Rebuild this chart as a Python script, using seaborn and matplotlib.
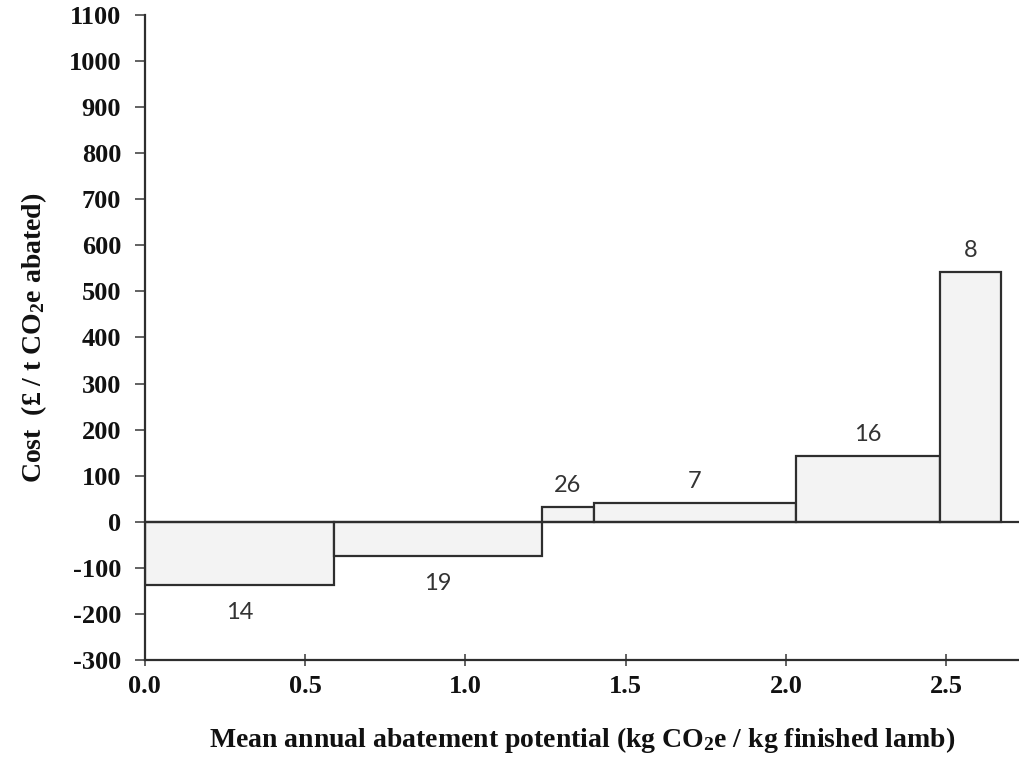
import numpy as np
import matplotlib
matplotlib.use("Agg")
import matplotlib.pyplot as plt
import seaborn as sns


# DATA

measure_ids = ["14", "19", "26", "7", "16", "8"]
abatement = [0.59, 0.65, 0.16, 0.63, 0.45, 0.19]   # kg CO2e / kg lamb (bar widths)
cost = [-138, -75, 31, 40, 143, 541]               # GBP / t CO2e (bar heights)

y_ticks = list(range(-300, 1101, 100))
x_ticks = [0.0, 0.5, 1.0, 1.5, 2.0, 2.5]


# STYLE

sns.set_theme(style="white")
plt.rcParams['font.family'] = ['Liberation Serif', 'DejaVu Serif']
plt.rcParams['axes.unicode_minus'] = False
plt.rcParams['mathtext.fontset'] = 'custom'
plt.rcParams['mathtext.bf'] = 'Liberation Serif:bold'
plt.rcParams['mathtext.rm'] = 'Liberation Serif'
plt.rcParams['mathtext.it'] = 'Liberation Serif:italic'

fig = plt.figure(figsize=(10.2, 7.68), dpi=100)
ax = fig.add_axes([0.142, 0.1406, 0.858, 0.84])

edges = np.concatenate([[0], np.cumsum(abatement)[:-1]])

# BARS

ax.bar(edges, cost, width=abatement, align='edge',
       color='#f3f3f3', edgecolor='#2e2e2e', linewidth=1.6, zorder=2)

ax.axhline(0, color='#2e2e2e', linewidth=1.6, zorder=3)

for left, w, c, lab in zip(edges, abatement, cost, measure_ids):
    off = 8 if c > 0 else -12
    ax.annotate(lab, (left + w / 2, c), xytext=(0, off), textcoords='offset points',
                ha='center', va='bottom' if c > 0 else 'top',
                fontsize=17, family=['Lato', 'DejaVu Sans'], color='#333333')


# AXES

ax.set_xlim(0, 2.73)
ax.set_ylim(-300, 1100)
ax.set_yticks(y_ticks)
ax.set_xticks(x_ticks)
ax.set_xticklabels([f"{v:.1f}" for v in x_ticks])

for s in ['top', 'right']:
    ax.spines[s].set_visible(False)
for s in ['left', 'bottom']:
    ax.spines[s].set_color('#2e2e2e')
    ax.spines[s].set_linewidth(1.6)

ax.tick_params(axis='y', left=True, direction='out', length=7, width=1.3,
               color='#555555', labelsize=19, pad=10)
ax.tick_params(axis='x', bottom=True, direction='inout', length=9, width=1.3,
               color='#555555', labelsize=19, pad=6)
for t in ax.get_xticklabels() + ax.get_yticklabels():
    t.set_fontweight('bold')
    t.set_color('#111111')

ax.set_ylabel(r"Cost  (£ / t CO$_\mathbf{2}$e abated)", fontsize=20, fontweight='bold',
              color='#111111', labelpad=14)
ax.set_xlabel(r"Mean annual abatement potential (kg CO$_\mathbf{2}$e / kg finished lamb)",
              fontsize=20, fontweight='bold', color='#111111', labelpad=20)

fig.savefig("out.png", dpi=100)
